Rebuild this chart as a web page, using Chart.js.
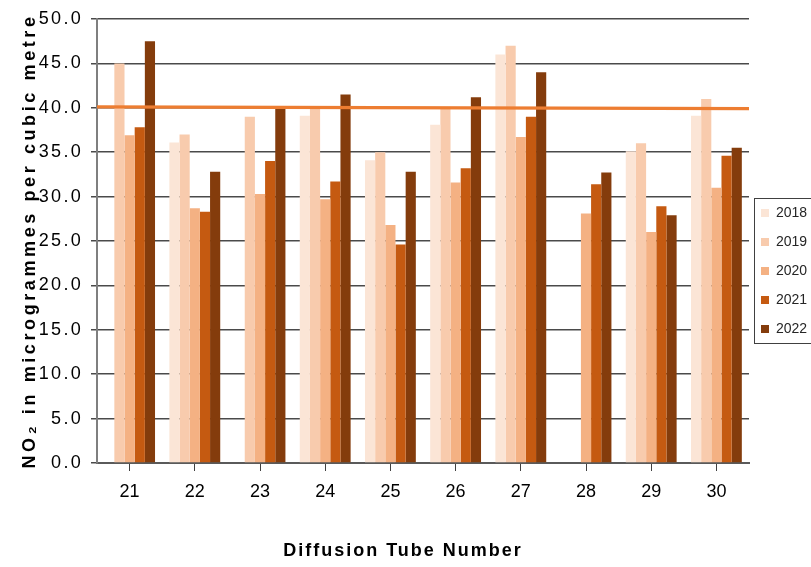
<!DOCTYPE html>
<html>
<head>
<meta charset="utf-8">
<script src="https://cdn.jsdelivr.net/npm/chart.js@4.4.0/dist/chart.umd.min.js"></script>
<style>
  html, body { margin: 0; padding: 0; background: #ffffff; }
  #wrap { width: 811px; height: 567px; }
</style>
</head>
<body>
<div id="wrap"><canvas id="c" width="811" height="567"></canvas></div>
<script>
// Diffusion tube annual mean NO2 results, µg/m³ (null = no result that year)
const tubes = ['21', '22', '23', '24', '25', '26', '27', '28', '29', '30'];
const years = ['2018', '2019', '2020', '2021', '2022'];
const no2_2018 = [null, 36.1, null, 39.1, 34.1, 38.1, 46.0, null, 35.1, 39.1];
const no2_2019 = [45.0, 37.0, 39.0, 40.0, 35.0, 39.9, 47.0, null, 36.0, 41.0];
const no2_2020 = [36.9, 28.7, 30.3, 29.7, 26.8, 31.6, 36.7, 28.1, 26.0, 31.0];
const no2_2021 = [37.8, 28.3, 34.0, 31.7, 24.6, 33.2, 39.0, 31.4, 28.9, 34.6];
const no2_2022 = [47.5, 32.8, 40.0, 41.5, 32.8, 41.2, 44.0, 32.7, 27.9, 35.5];
// Annual mean objective line, value at the left and right edge of the plot
const objectiveLine = [40.1, 39.9];
const yMin = 0, yMax = 50, yStep = 5;

const yearColours = ['#FBE5D6', '#F8CBAD', '#F4B183', '#C55A11', '#843C0C'];
const seriesValues = [no2_2018, no2_2019, no2_2020, no2_2021, no2_2022];

// Tube k sits at x = k; tick marks go on the boundaries between tubes
const xLo = -0.5, xHi = tubes.length - 0.5;
const tubeEdges = tubes.map((t, k) => k - 0.5).concat([xHi]);

Chart.defaults.font.family = '"Liberation Sans", Arial, sans-serif';
Chart.defaults.color = '#000000';

const barSets = years.map((yr, i) => ({
  type: 'bar',
  label: yr,
  data: seriesValues[i].map((v, k) => ({ x: k, y: v })),
  backgroundColor: yearColours[i],
  borderWidth: 0,
  categoryPercentage: 0.78,
  barPercentage: 1.0,
  order: 1
}));

const lineSet = {
  type: 'line',
  label: 'Objective',
  data: [{ x: xLo, y: objectiveLine[0] }, { x: xHi, y: objectiveLine[1] }],
  borderColor: '#ED7D31',
  borderWidth: 3.2,
  pointRadius: 0,
  fill: false,
  order: 0
};

// Draws a scale part with extra letter spacing (and an optional offset)
function spaced(scale, method, spacing, dx) {
  const orig = scale[method];
  if (orig.__spaced) return;
  const fn = function () {
    const ctx = this.ctx;
    ctx.save();
    ctx.letterSpacing = spacing + 'px';
    if (dx) ctx.translate(dx, 0);
    orig.apply(this, arguments);
    ctx.restore();
  };
  fn.__spaced = true;
  scale[method] = fn;
}

const textSpacing = {
  id: 'textSpacing',
  afterUpdate(chart) {
    spaced(chart.scales.y, 'drawTitle', 3.6, 0);
    spaced(chart.scales.y, 'drawLabels', 2.3, 0);
    spaced(chart.scales.x, 'drawTitle', 2, -20);
  }
};

// Boxed legend: nudges the legend and outlines it
const legendFrame = {
  id: 'legendFrame',
  afterLayout(chart) {
    const lg = chart.legend;
    lg.left -= 3; lg.right -= 3;
    lg.top -= 22; lg.bottom -= 22;
  },
  afterDraw(chart) {
    const hb = chart.legend.legendHitBoxes;
    if (!hb || !hb.length) return;
    const ctx = chart.ctx;
    const x0 = hb[0].left - 7;
    const y0 = hb[0].top - 8;
    const y1 = hb[hb.length - 1].top + hb[hb.length - 1].height + 7;
    ctx.save();
    ctx.strokeStyle = '#404040';
    ctx.lineWidth = 1;
    ctx.strokeRect(Math.round(x0) + 0.5, Math.round(y0) + 0.5, 80, Math.round(y1 - y0));
    ctx.restore();
  }
};

new Chart(document.getElementById('c'), {
  type: 'bar',
  data: { datasets: [lineSet, ...barSets] },
  options: {
    responsive: false,
    animation: false,
    devicePixelRatio: 1,
    layout: { padding: { top: 19, left: 0, right: 0, bottom: 0 } },
    plugins: {
      tooltip: { enabled: false },
      legend: {
        position: 'right',
        align: 'center',
        maxWidth: 62,
        labels: {
          filter: item => item.text !== 'Objective',
          boxWidth: 8,
          boxHeight: 8,
          padding: 15,
          color: '#262626',
          font: { size: 14 }
        }
      }
    },
    scales: {
      x: {
        type: 'linear',
        min: xLo,
        max: xHi,
        offset: false,
        afterBuildTicks(scale) { scale.ticks = tubeEdges.map(v => ({ value: v })); },
        grid: { display: true, drawOnChartArea: false, drawTicks: true, tickLength: 8, color: '#404040', lineWidth: 1 },
        border: { display: true, color: '#5a5a5a', width: 2 },
        ticks: {
          autoSkip: false,
          maxRotation: 0,
          labelOffset: 32.6,
          padding: 10,
          font: { size: 18 },
          color: '#000000',
          callback: (v, k) => (k < tubes.length ? tubes[k] : '')
        },
        title: { display: true, text: 'Diffusion Tube Number', font: { size: 18, weight: 'bold' }, color: '#000000', padding: { top: 0, bottom: 5 } },
        afterFit(scale) { scale.height = 104; }
      },
      y: {
        type: 'linear',
        min: yMin,
        max: yMax,
        ticks: { stepSize: yStep, padding: 8, font: { size: 18 }, color: '#000000', callback: v => Number(v).toFixed(1) },
        grid: { color: '#4a4a4a', lineWidth: 1.5, drawTicks: true, tickLength: 6 },
        border: { display: true, color: '#7f7f7f', width: 2 },
        title: { display: true, text: 'NO\u2082 in microgrammes per cubic metre', font: { size: 18, weight: 'bold' }, color: '#000000', padding: { top: 19, bottom: 0 } },
        afterFit(scale) { scale.width = 97; }
      }
    }
  },
  plugins: [textSpacing, legendFrame]
});
</script>
</body>
</html>
